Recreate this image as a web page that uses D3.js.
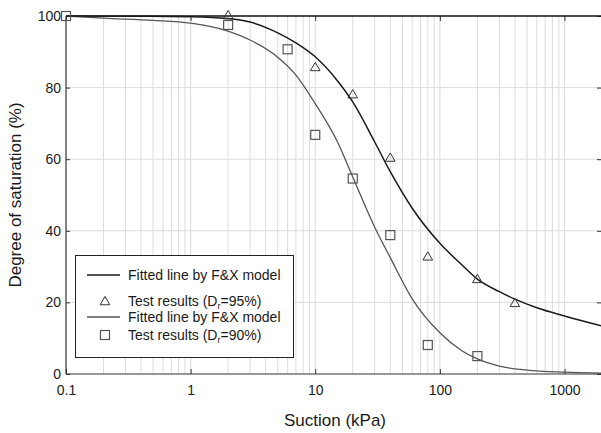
<!DOCTYPE html>
<html><head><meta charset="utf-8">
<script src="https://cdn.jsdelivr.net/npm/d3@7"></script>
<style>
html,body{margin:0;padding:0;background:#fff;}
svg{display:block;font-family:"Liberation Sans",Arial,Helvetica,sans-serif;}
</style></head>
<body><svg id="c" width="601" height="433"></svg>
<script>
// Data
const suction95 = [2, 10, 20, 40, 80, 200, 400];
const sat95     = [100, 85.5, 77.9, 60.2, 32.6, 26.3, 19.6];
const suction90 = [0.1, 2, 6, 10, 20, 40, 80, 200];
const sat90     = [100, 97.5, 90.7, 66.8, 54.6, 38.8, 8.1, 5.0];
// Fitted curves
const fitX95 = [0.1, 0.3, 1, 2, 3, 5, 7, 10, 15, 20, 30, 40, 60, 100, 150, 200, 300, 400, 600, 1000, 2000];
const fitY95 = [100, 99.95, 99.8, 99.3, 98.3, 95.3, 92.5, 88.6, 82, 76, 64.8, 56.5, 46.3, 36.5, 30.5, 26.5, 23.0, 20.9, 18.5, 16.2, 13.4];
const fitX90 = [0.1, 0.2, 0.5, 1, 2, 3, 5, 7, 10, 15, 20, 30, 40, 60, 100, 150, 200, 300, 500, 1000, 2000];
const fitY90 = [100, 99.4, 98.8, 98, 95.8, 93.3, 88.5, 83.5, 75.5, 65, 55, 41, 32.5, 21, 11.5, 6.5, 4.2, 2.2, 1.1, 0.5, 0.2];
const xTicks = [0.1, 1, 10, 100, 1000];
const xTickLabels = ["0.1", "1", "10", "100", "1000"];
const yTicks = [0, 20, 40, 60, 80, 100];
const legendLabels = ["Fitted line by F&X model", "Test results (D", "Fitted line by F&X model", "Test results (D"];
const legendSub = ["", "=95%)", "", "=90%)"];

const svg = d3.select("#c");
const L = 66, R = 602, T = 16, B = 374;
const x = d3.scaleLog().domain([0.1, 2000]).range([L, R]);
const y = d3.scaleLinear().domain([0, 100]).range([B, T]);

// grid
const minor = [];
for (let e = -1; e <= 3; e++) for (let m = 1; m <= 9; m++) { const v = m * Math.pow(10, e); if (v > 0.1 && v < 2000) minor.push(v); }
svg.append("g").selectAll("line").data(minor).join("line")
  .attr("x1", d => x(d)).attr("x2", d => x(d)).attr("y1", T).attr("y2", B)
  .attr("stroke", "#dcdcdc").attr("stroke-width", 1);
svg.append("g").selectAll("line").data(yTicks.filter(d => d > 0 && d < 100)).join("line")
  .attr("x1", L).attr("x2", R).attr("y1", d => y(d)).attr("y2", d => y(d))
  .attr("stroke", "#dcdcdc").attr("stroke-width", 1);

// axes
const fmt = d => xTickLabels[xTicks.indexOf(d)];
const axB = svg.append("g").attr("transform", `translate(0,${B})`)
  .call(d3.axisBottom(x).tickValues(xTicks).tickFormat(fmt).tickSize(-5).tickPadding(11));
const axT = svg.append("g").attr("transform", `translate(0,${T})`)
  .call(d3.axisTop(x).tickValues(xTicks).tickFormat("").tickSize(-5));
const axL = svg.append("g").attr("transform", `translate(${L},0)`)
  .call(d3.axisLeft(y).tickValues(yTicks).tickSize(-4).tickPadding(5));
const axR = svg.append("g").attr("transform", `translate(${R - 1},0)`)
  .call(d3.axisRight(y).tickValues(yTicks).tickFormat("").tickSize(-4));
[axB, axT, axL, axR].forEach(g => {
  g.select(".domain").remove();
  g.selectAll("line").attr("stroke", "#333");
  g.selectAll("text").attr("font-size", 14).attr("fill", "#1a1a1a").attr("font-family", "Liberation Sans, Arial, sans-serif");
});
svg.append("line").attr("x1", L).attr("x2", R).attr("y1", T).attr("y2", T).attr("stroke", "#111").attr("stroke-width", 1.3);
svg.append("line").attr("x1", L).attr("x2", R).attr("y1", B).attr("y2", B).attr("stroke", "#333").attr("stroke-width", 1.2);
svg.append("line").attr("x1", L).attr("x2", L).attr("y1", T).attr("y2", B).attr("stroke", "#333").attr("stroke-width", 1.2);

// curves
svg.append("clipPath").attr("id", "clip").append("rect").attr("x", L).attr("y", T - 2).attr("width", R - L).attr("height", B - T + 2);
const line = d3.line().x(d => x(d[0])).y(d => y(d[1])).curve(d3.curveMonotoneX);
svg.append("path").datum(fitX90.map((v, i) => [v, fitY90[i]])).attr("d", line)
  .attr("fill", "none").attr("stroke", "#555").attr("stroke-width", 1.3).attr("clip-path", "url(#clip)");
svg.append("path").datum(fitX95.map((v, i) => [v, fitY95[i]])).attr("d", line)
  .attr("fill", "none").attr("stroke", "#1a1a1a").attr("stroke-width", 1.5).attr("clip-path", "url(#clip)");

// markers
const tri = d3.symbol().type(d3.symbolTriangle).size(40);
svg.append("g").selectAll("path").data(suction95.map((v, i) => [v, sat95[i]])).join("path")
  .attr("d", tri).attr("transform", d => `translate(${x(d[0])},${y(d[1])})`)
  .attr("fill", "none").attr("stroke", "#333").attr("stroke-width", 1);
svg.append("g").selectAll("rect").data(suction90.map((v, i) => [v, sat90[i]])).join("rect")
  .attr("x", d => x(d[0]) - 4.5).attr("y", d => y(d[1]) - 4.5).attr("width", 9).attr("height", 9)
  .attr("fill", "none").attr("stroke", "#555").attr("stroke-width", 1.2);

// legend
const lg = svg.append("g");
lg.append("rect").attr("x", 75.5).attr("y", 255.5).attr("width", 218).attr("height", 102)
  .attr("fill", "#fff").attr("stroke", "#222").attr("stroke-width", 1);
const rowY = [275, 300.5, 317, 335];
const kinds = ["line95", "tri", "line90", "sq"];
rowY.forEach((ry, i) => {
  const k = kinds[i];
  if (k === "line95") lg.append("line").attr("x1", 87).attr("x2", 120).attr("y1", ry).attr("y2", ry).attr("stroke", "#1a1a1a").attr("stroke-width", 1.5);
  if (k === "line90") lg.append("line").attr("x1", 87).attr("x2", 120).attr("y1", ry).attr("y2", ry).attr("stroke", "#555").attr("stroke-width", 1.3);
  if (k === "tri") lg.append("path").attr("d", tri).attr("transform", `translate(105,${ry + 1.5})`).attr("fill", "none").attr("stroke", "#333");
  if (k === "sq") lg.append("rect").attr("x", 100.5).attr("y", ry - 4.5).attr("width", 9).attr("height", 9).attr("fill", "none").attr("stroke", "#555").attr("stroke-width", 1.2);
  const t = lg.append("text").attr("x", 128).attr("y", ry + 5).attr("font-size", 14).attr("fill", "#1a1a1a").text(legendLabels[i]);
  if (legendSub[i]) {
    t.append("tspan").attr("font-size", 9).attr("dy", 3).text("r");
    t.append("tspan").attr("dy", -3).text(legendSub[i]);
  }
});

// titles
svg.append("text").attr("x", 335).attr("y", 426).attr("text-anchor", "middle").attr("font-size", 17).attr("fill", "#1a1a1a").text("Suction (kPa)");
svg.append("text").attr("transform", `translate(21,195) rotate(-90)`).attr("text-anchor", "middle").attr("font-size", 17).attr("fill", "#1a1a1a").text("Degree of saturation (%)");
</script></body></html>
